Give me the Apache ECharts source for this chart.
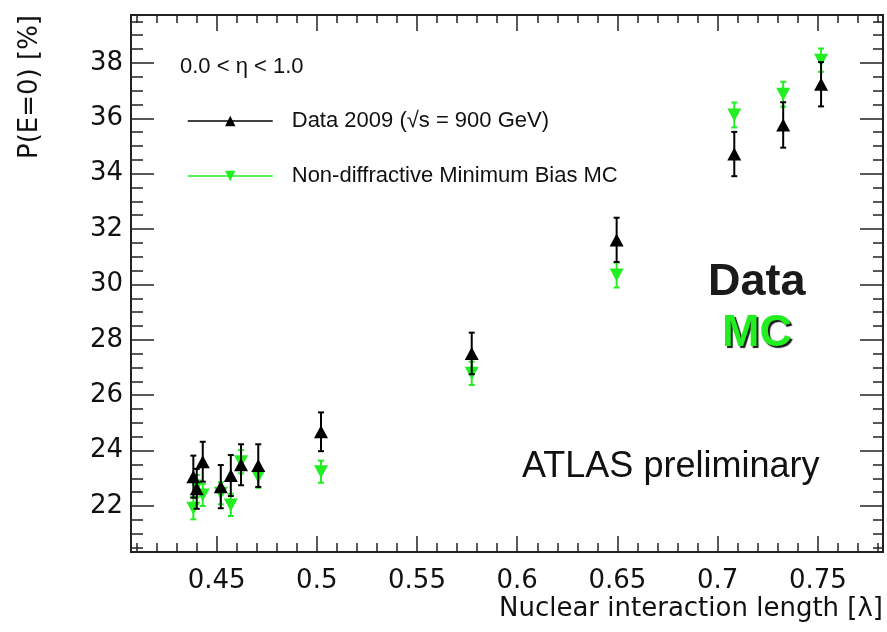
<!DOCTYPE html>
<html><head><meta charset="utf-8">
<script src="https://cdn.jsdelivr.net/npm/echarts@6/dist/echarts.min.js"></script>
<style>html,body{margin:0;padding:0;background:#fff}#c{width:887px;height:632px}</style>
</head><body><div id="c"></div>
<script>
// ---- data ----
const lambda  = [0.4384, 0.4401, 0.4431, 0.4521, 0.4571, 0.4622, 0.4708, 0.5021, 0.5773, 0.6496, 0.7083, 0.7327, 0.7516];
const dataP   = [23.06, 22.62, 23.60, 22.70, 23.10, 23.49, 23.46, 24.68, 27.51, 31.61, 34.71, 35.76, 37.23];
const dataErr = [0.76, 0.72, 0.72, 0.78, 0.74, 0.74, 0.77, 0.70, 0.75, 0.80, 0.80, 0.82, 0.80];
const mcP     = [21.92, 22.72, 22.40, 22.46, 22.04, 23.60, 23.06, 23.24, 26.79, 30.34, 36.12, 36.87, 38.10];
const mcErr   = [0.40, 0.40, 0.40, 0.40, 0.40, 0.42, 0.40, 0.40, 0.42, 0.45, 0.45, 0.45, 0.42];
const xTickLabels = ['0.45', '0.5', '0.55', '0.6', '0.65', '0.7', '0.75'];
const yTickLabels = ['22', '24', '26', '28', '30', '32', '34', '36', '38'];
const seriesNames = ['Data 2009 (\u221As = 900 GeV)', 'Non-diffractive Minimum Bias MC'];

// ---- layout / style ----
const XMIN = 0.4073, XMAX = 0.7825, YMIN = 20.34, YMAX = 39.73;
const BLACK = '#000000', GREEN = '#22ee22', FRAME = '#222222';
const xMajor = xTickLabels.map(Number);
const yMajor = yTickLabels.map(Number);
const xMinor = []; for (let k = 41; k <= 78; k++) xMinor.push(k / 100);
const yMinor = []; for (let k = 41; k <= 79; k++) yMinor.push(k / 2);

function xAx(pos, ticks, len, showLabel) {
  return {
    type: 'value', position: pos, min: XMIN, max: XMAX,
    axisLine: {show: true, onZero: false, lineStyle: {color: FRAME, width: 2}},
    axisTick: {show: true, inside: true, length: len, customValues: ticks, lineStyle: {color: FRAME, width: 1.5}},
    axisLabel: showLabel ? {show: true, customValues: xMajor, margin: 16, fontFamily: 'DejaVu Sans', fontSize: 26, color: '#111'} : {show: false},
    splitLine: {show: false}
  };
}
function yAx(pos, ticks, len, showLabel) {
  return {
    type: 'value', position: pos, min: YMIN, max: YMAX,
    axisLine: {show: true, onZero: false, lineStyle: {color: FRAME, width: 2}},
    axisTick: {show: true, inside: true, length: len, customValues: ticks, lineStyle: {color: FRAME, width: 1.5}},
    axisLabel: showLabel ? {show: true, customValues: yMajor, margin: 8, fontFamily: 'DejaVu Sans', fontSize: 26, color: '#111'} : {show: false},
    splitLine: {show: false}
  };
}

function errSeries(vals, errs, color, z) {
  return {
    type: 'custom', xAxisIndex: 0, yAxisIndex: 0, z: z, silent: true,
    data: lambda.map((x, i) => [x, vals[i] - errs[i], vals[i] + errs[i]]),
    encode: {x: 0, y: [1, 2]},
    renderItem: function (params, api) {
      const lo = api.coord([api.value(0), api.value(1)]);
      const hi = api.coord([api.value(0), api.value(2)]);
      const w = 3, st = {stroke: color, lineWidth: 2};
      return {type: 'group', children: [
        {type: 'line', shape: {x1: lo[0], y1: lo[1], x2: hi[0], y2: hi[1]}, style: st},
        {type: 'line', shape: {x1: lo[0] - w, y1: lo[1], x2: lo[0] + w, y2: lo[1]}, style: st},
        {type: 'line', shape: {x1: hi[0] - w, y1: hi[1], x2: hi[0] + w, y2: hi[1]}, style: st}
      ]};
    }
  };
}

const chart = echarts.init(document.getElementById('c'), null, {renderer: 'canvas'});
chart.setOption({
  backgroundColor: '#ffffff',
  animation: false,
  grid: {left: 131, right: 4, top: 15, bottom: 80, containLabel: false},
  xAxis: [xAx('bottom', xMajor, 16, true), xAx('bottom', xMinor, 9, false), xAx('top', xMajor, 16, false), xAx('top', xMinor, 8, false)],
  yAxis: [yAx('left', yMajor, 23, true), yAx('left', yMinor, 12, false), yAx('right', yMajor, 23, false), yAx('right', yMinor, 10, false)],
  legend: {
    orient: 'vertical', left: 182, top: 105, padding: 5, itemWidth: 85, itemHeight: 13, itemGap: 33,
    data: seriesNames,
    lineStyle: {opacity: 1, width: 1.5},
    textStyle: {fontFamily: 'Liberation Sans, Arial', fontSize: 22, color: '#111', lineHeight: 22, padding: [0, 0, 0, 14]},
    selectedMode: false
  },
  series: [
    errSeries(mcP, mcErr, GREEN, 2),
    {
      name: seriesNames[1], type: 'line', xAxisIndex: 0, yAxisIndex: 0, z: 3,
      data: lambda.map((x, i) => [x, mcP[i]]),
      symbol: 'triangle', symbolSize: [14, 13], symbolRotate: 180, showSymbol: true,
      lineStyle: {opacity: 0, width: 0}, itemStyle: {color: GREEN}, color: GREEN
    },
    errSeries(dataP, dataErr, BLACK, 4),
    {
      name: seriesNames[0], type: 'line', xAxisIndex: 0, yAxisIndex: 0, z: 5,
      data: lambda.map((x, i) => [x, dataP[i]]),
      symbol: 'triangle', symbolSize: [14, 13], showSymbol: true,
      lineStyle: {opacity: 0, width: 0}, itemStyle: {color: BLACK}, color: BLACK
    }
  ],
  graphic: [
    {type: 'text', x: 180, y: 67, style: {text: '0.0 < \u03b7 < 1.0', font: '22px "Liberation Sans", Arial', fill: '#111', textAlign: 'left', textVerticalAlign: 'middle'}},
    {type: 'text', x: 708, y: 283, style: {text: 'Data', font: 'bold 45px "Liberation Sans", Arial', fill: '#1a1a1a', textAlign: 'left', textVerticalAlign: 'middle'}},
    {type: 'text', x: 757, y: 334, style: {text: 'MC', font: 'bold 45px "Liberation Sans", Arial', fill: '#22ee22', textAlign: 'center', textVerticalAlign: 'middle',
      textShadowColor: '#1a1a1a', textShadowBlur: 1, textShadowOffsetX: 2, textShadowOffsetY: 2}},
    {type: 'text', x: 522, y: 467, style: {text: 'ATLAS preliminary', font: '36px "Liberation Sans", Arial', fill: '#111', textAlign: 'left', textVerticalAlign: 'middle'}},
    {type: 'text', x: 883, y: 609, style: {text: 'Nuclear interaction length [\u03bb]', font: '26px "DejaVu Sans"', fill: '#111', textAlign: 'right', textVerticalAlign: 'middle'}},
    {type: 'text', x: 30, y: 15, rotation: Math.PI / 2, style: {text: 'P(E=0) [%]', font: '26px "DejaVu Sans"', fill: '#111', textAlign: 'right', textVerticalAlign: 'middle'}}
  ]
});
</script>
</body></html>
